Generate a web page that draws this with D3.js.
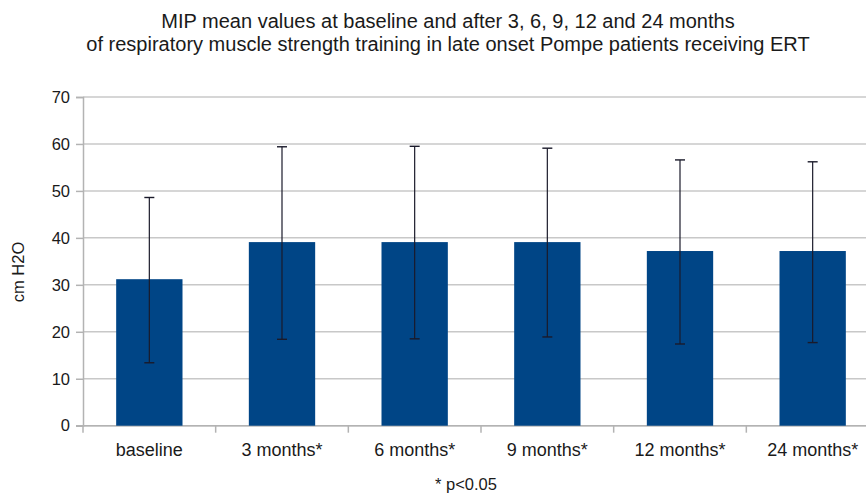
<!DOCTYPE html>
<html>
<head>
<meta charset="utf-8">
<script src="https://cdn.jsdelivr.net/npm/d3@7"></script>
<style>
	body { margin: 0; background: #fff; overflow: hidden; }
	text { font-family: "Liberation Sans", Arial, sans-serif; fill: #1a1a1a; }
</style>
</head>
<body>
<div class="container"></div>
<script>

var categories = ["baseline", "3 months*", "6 months*", "9 months*", "12 months*", "24 months*"];
var means = [31.2, 39.1, 39.1, 39.1, 37.2, 37.2];
var errLow = [13.4, 18.4, 18.5, 18.9, 17.4, 17.7];
var errHigh = [48.6, 59.4, 59.5, 59.1, 56.6, 56.2];
var yTicks = [0, 10, 20, 30, 40, 50, 60, 70];
var titleLines = ["MIP mean values at baseline and after 3, 6, 9, 12 and 24 months",
	"of respiratory muscle strength training in late onset Pompe patients receiving ERT"];

var W = 866, H = 493;

var svg = d3.select(".container")
	.append("svg")
	.attr("width", W)
	.attr("height", H);

// plot runs a bit past the right edge of the picture
var x = d3.scaleBand()
	.domain(categories)
	.range([83, 879])
	.paddingInner(0.5)
	.paddingOuter(0.25);

var y = d3.scaleLinear()
	.domain([0, 70])
	.range([425.7, 97]);

// grid
svg.append("g")
	.selectAll("line")
	.data(yTicks)
	.enter().append("line")
	.attr("x1", 83).attr("x2", 879)
	.attr("y1", function(d) { return y(d); })
	.attr("y2", function(d) { return y(d); })
	.style("stroke", "#c8c8c8")
	.style("stroke-width", "1.5px");

// y axis
var yAxis = svg.append("g")
	.attr("transform", "translate(83,0)")
	.call(d3.axisLeft(y).tickValues(yTicks).tickSize(7).tickPadding(6));
yAxis.select(".domain").style("stroke", "#b3b3b3").style("stroke-width", "1.5px");
yAxis.selectAll(".tick line").style("stroke", "#b3b3b3").style("stroke-width", "1.5px");
yAxis.selectAll("text").style("font-size", "16.5px").style("fill", "#1a1a1a")
	.style("font-family", "'Liberation Sans', Arial, sans-serif");

// x axis, ticks on category boundaries
var bounds = categories.map(function(c) { return x(c) - x.bandwidth() / 2; });
svg.append("line")
	.attr("x1", 76).attr("x2", 879)
	.attr("y1", y(0)).attr("y2", y(0))
	.style("stroke", "#b3b3b3").style("stroke-width", "1.5px");
svg.append("g")
	.selectAll("line")
	.data(bounds)
	.enter().append("line")
	.attr("x1", function(d) { return d; })
	.attr("x2", function(d) { return d; })
	.attr("y1", y(0)).attr("y2", y(0) + 7)
	.style("stroke", "#b3b3b3").style("stroke-width", "1.5px");

svg.append("g")
	.selectAll("text")
	.data(categories)
	.enter().append("text")
	.attr("x", function(d) { return x(d) + x.bandwidth() / 2; })
	.attr("y", 455.5)
	.attr("text-anchor", "middle")
	.style("font-size", "18px")
	.text(function(d) { return d; });

// bars
svg.append("g")
	.selectAll("rect")
	.data(categories)
	.enter().append("rect")
	.attr("x", function(d) { return x(d); })
	.attr("width", x.bandwidth())
	.attr("y", function(d, i) { return y(means[i]); })
	.attr("height", function(d, i) { return y(0) - y(means[i]); })
	.style("fill", "#004586");

// error bars
var eb = svg.append("g")
	.selectAll("g")
	.data(categories)
	.enter().append("g");
eb.append("line")
	.attr("x1", function(d) { return x(d) + x.bandwidth() / 2; })
	.attr("x2", function(d) { return x(d) + x.bandwidth() / 2; })
	.attr("y1", function(d, i) { return y(errLow[i]); })
	.attr("y2", function(d, i) { return y(errHigh[i]); })
	.style("stroke", "#1a1a2a").style("stroke-width", "1.2px");
[errLow, errHigh].forEach(function(arr) {
	eb.append("line")
		.attr("x1", function(d) { return x(d) + x.bandwidth() / 2 - 5; })
		.attr("x2", function(d) { return x(d) + x.bandwidth() / 2 + 5; })
		.attr("y1", function(d, i) { return y(arr[i]); })
		.attr("y2", function(d, i) { return y(arr[i]); })
		.style("stroke", "#1a1a2a").style("stroke-width", "1.4px");
});

// title
svg.append("g")
	.selectAll("text")
	.data(titleLines)
	.enter().append("text")
	.attr("x", 448)
	.attr("y", function(d, i) { return 27.5 + i * 23.5; })
	.attr("text-anchor", "middle")
	.style("font-size", "20px")
	.text(function(d) { return d; });

// y label
svg.append("text")
	.attr("transform", "translate(24,272) rotate(-90)")
	.attr("text-anchor", "middle")
	.style("font-size", "16.5px")
	.text("cm H2O");

// footnote
svg.append("text")
	.attr("x", 466)
	.attr("y", 490)
	.attr("text-anchor", "middle")
	.style("font-size", "16.5px")
	.text("* p<0.05");

</script>
</body>
</html>
